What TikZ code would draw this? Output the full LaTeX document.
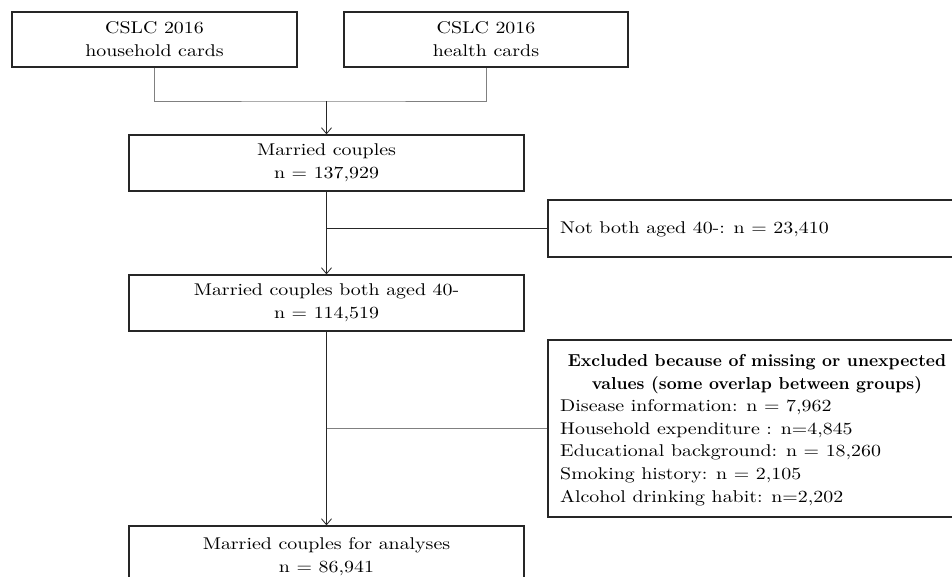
\documentclass[tikz,border=0pt]{standalone}
\usepackage{fontspec}
\setmainfont{lmroman10-regular.otf}[FakeStretch=1.17,BoldFont=lmroman10-bold.otf]
\newfontfamily\titlefont{lmroman10-bold.otf}
\usetikzlibrary{arrows.meta}
\begin{document}
\begin{tikzpicture}[x=1pt,y=-1pt,
  box/.style={draw=black!85,line width=1.3pt,inner sep=0pt,align=center,
    font=\fontsize{17}{23}\selectfont},
  txt/.style={inner sep=0pt,font=\fontsize{17}{22.7}\selectfont},
  link/.style={draw=black!50,line width=0.9pt},
  flow/.style={draw=black!85,line width=1pt},
  arr/.style={-{Straight Barb[length=6pt,width=10pt,line width=0.8pt]}}
]
\useasboundingbox (0,0) rectangle (952,576);
\clip (0,0) rectangle (952,576);

\node[box,minimum width=285pt,minimum height=55pt] (A) at (154.5,39.5) {CSLC 2016\\household cards};
\node[box,minimum width=284pt,minimum height=55pt] (B) at (486,39.5) {CSLC 2016\\health cards};
\node[box,minimum width=395pt,minimum height=56pt] (C) at (326.5,163) {Married couples\\n = 137,929};
\node[box,minimum width=418pt,minimum height=57pt] (NB) at (757,228.5) {};
\node[txt,anchor=west] (NBt) at (560,229.5) {Not both aged 40-: n = 23,410};
\node[box,minimum width=395pt,minimum height=56pt] (D) at (326.5,303) {Married couples both aged 40-\\n = 114,519};
\node[box,minimum width=418pt,minimum height=177pt] (EX) at (757,428.5) {};
\node[txt,align=center,font=\fontsize{17.3}{22.7}\selectfont\titlefont] (EXt) at (757,374) {Excluded because of missing or unexpected\\values (some overlap between groups)};
\node[txt,align=left,anchor=west] (EXl) at (560,452.5) {Disease information: n = 7,962\\Household expenditure : n=4,845\\Educational background: n = 18,260\\Smoking history: n = 2,105\\Alcohol drinking habit: n=2,202};
\node[box,minimum width=395pt,minimum height=62pt] (E) at (326.5,557) {Married couples for analyses\\n = 86,941};

\coordinate (j1) at (326.5,101);
\coordinate (j2) at (326.5,228.5);
\coordinate (j3) at (326.5,428);
\draw[link] (A.south) |- (j1) -| (B.south);
\draw[flow,arr] (j1) -- (C.north);
\draw[flow,arr] (C.south) -- (D.north);
\draw[flow] (j2) -- (NB.west);
\draw[flow,arr] (D.south) -- (E.north);
\draw[link] (j3) -- (EX.west |- j3);
\end{tikzpicture}
\end{document}
